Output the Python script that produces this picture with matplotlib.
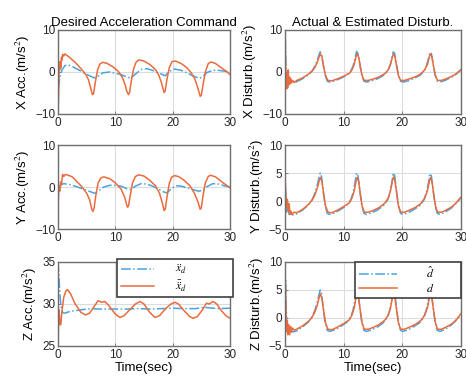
import matplotlib
matplotlib.use("Agg")
import matplotlib.pyplot as plt
import numpy as np

# ---- data (time in sec, value in m/s^2) ----
x_acc_cmd = [(0, -10), (0.1, -6), (0.2, 1.5), (0.3, 0.5), (0.4, 2.5), (0.5, 1), (0.6, 3.5),
             (0.7, 2.8), (0.8, 4.2), (1.0, 3.8), (1.2, 4.3), (1.5, 4.0), (2.0, 3.5), (3.0, 2.3),
             (4.0, 0.8), (4.8, -0.5), (5.3, -1.8), (5.7, -3.8), (6.0, -5.4), (6.2, -5.2),
             (6.5, -2.5), (6.9, 0.5), (7.3, 1.9), (7.8, 2.3), (8.5, 2.1), (9.5, 1.3), (10.5, 0.2),
             (11.2, -1.2), (11.7, -3.0), (12.0, -4.6), (12.3, -5.4), (12.5, -4.8), (12.8, -2.0),
             (13.2, 0.8), (13.6, 2.3), (14.1, 2.9), (15.0, 2.6), (16.0, 1.8), (17.0, 0.6),
             (17.6, -0.8), (18.1, -2.8), (18.5, -4.9), (18.7, -4.5), (19.0, -1.8), (19.4, 1.0),
             (19.9, 2.5), (20.5, 2.6), (21.5, 2.0), (22.5, 1.0), (23.3, -0.3), (23.9, -1.8),
             (24.4, -3.8), (24.8, -5.8), (25.0, -5.5), (25.3, -3.0), (25.7, 0.0), (26.2, 2.0),
             (26.7, 2.4), (27.5, 2.0), (28.5, 1.0), (29.5, 0.0), (30, -0.6)]
x_acc_ref = [(0, -4), (0.3, -1.5), (0.7, 0.5), (1.2, 1.5), (1.7, 1.7), (2.5, 1.3), (3.5, 0.6),
             (4.5, -0.2), (5.5, -0.9), (6.3, -1.4), (7.0, -1.0), (7.8, -0.2), (9.0, 0.0),
             (10.0, -0.3), (11.0, -0.6), (12.0, -1.2), (12.7, -1.5), (13.5, -0.5), (14.5, 0.6),
             (15.5, 0.8), (16.5, 0.4), (17.5, -0.2), (18.7, -0.9), (19.5, 0.2), (20.3, 0.7),
             (21.5, 0.4), (22.5, -0.2), (23.5, -0.9), (24.6, -1.5), (25.2, -1.2), (26.0, -0.1),
             (27.0, 0.4), (28.0, 0.4), (29.0, 0.2), (30, 0.0)]

y_acc_cmd = [(0, -5), (0.15, 0), (0.3, -1), (0.45, 1.2), (0.6, 0.5), (0.8, 3.0), (1.0, 2.5),
             (1.3, 3.0), (1.8, 2.8), (2.5, 2.4), (3.5, 1.0), (4.2, 0.0), (5.0, -1.5), (5.5, -3.0),
             (5.9, -5.3), (6.1, -5.8), (6.3, -5.0), (6.6, -2.0), (7.0, 1.0), (7.5, 2.2),
             (8.0, 2.4), (9.0, 2.0), (10.0, 1.0), (11.0, -0.5), (11.6, -2.3), (12.1, -4.8),
             (12.3, -4.5), (12.6, -2.0), (13.0, 1.0), (13.5, 2.5), (14.1, 2.9), (15.0, 2.6),
             (16.0, 1.6), (17.0, 0.3), (17.7, -1.5), (18.2, -3.8), (18.5, -5.6), (18.7, -5.3),
             (19.0, -2.5), (19.4, 0.8), (19.8, 2.3), (20.3, 2.7), (21.0, 2.5), (22.0, 1.6),
             (23.0, 0.3), (23.8, -1.5), (24.4, -3.5), (24.8, -5.3), (25.0, -5.0), (25.3, -2.0),
             (25.7, 1.0), (26.2, 2.5), (26.6, 2.8), (27.5, 2.4), (28.5, 1.3), (29.5, 0.3),
             (30, -0.2)]
y_acc_ref = [(0, 0), (0.5, 0.5), (1.0, 0.8), (2.0, 0.6), (3.0, 0.2), (4.0, -0.3), (5.0, -0.8),
             (6.4, -1.5), (7.0, -1.0), (8.0, 0.0), (9.0, 0.4), (10.0, 0.4), (11.0, 0.2),
             (12.0, -0.4), (12.7, -0.6), (13.5, 0.2), (14.5, 0.8), (15.5, 0.7), (16.5, 0.2),
             (17.5, -0.5), (18.5, -1.2), (19.0, -1.4), (19.7, -0.5), (20.5, 0.3), (21.5, 0.2),
             (22.5, -0.2), (23.5, -0.6), (24.5, -1.0), (25.3, -0.8), (26.0, 0.1), (27.0, 0.8),
             (28.0, 0.7), (29.0, 0.3), (30, 0.0)]

z_acc_cmd = [(0, 24), (0.05, 26), (0.1, 28.5), (0.2, 29.3), (0.35, 27.5), (0.5, 27.6),
             (0.7, 29.2), (1.0, 30.8), (1.4, 31.6), (1.7, 31.7), (2.2, 31.2), (3.0, 30.0),
             (4.0, 29.0), (4.8, 28.7), (5.5, 28.9), (6.3, 29.7), (7.0, 30.4), (7.6, 30.2),
             (8.2, 30.3), (9.0, 29.7), (10.0, 28.8), (10.8, 28.4), (11.5, 28.6), (12.5, 29.3),
             (13.5, 30.0), (14.3, 30.3), (15.0, 30.0), (16.0, 29.0), (16.9, 28.4), (17.7, 28.6),
             (18.7, 29.4), (19.7, 30.0), (20.4, 30.2), (21.0, 30.0), (22.0, 29.2), (23.0, 28.5),
             (23.6, 28.3), (24.3, 28.5), (25.2, 29.3), (25.9, 30.1), (26.4, 30.0), (27.0, 30.3),
             (27.7, 30.0), (28.5, 29.2), (29.3, 28.6), (30, 28.3)]
z_acc_ref = [(0, 35), (0.15, 33.5), (0.3, 31.5), (0.5, 29.8), (0.8, 29.0), (1.2, 28.9),
             (2.0, 29.1), (3.0, 29.2), (4.0, 29.3), (5.0, 29.4), (6.0, 29.45), (7.0, 29.4),
             (10.0, 29.4), (12.0, 29.4), (14.0, 29.45), (16.0, 29.4), (18.0, 29.45),
             (20.0, 29.5), (22.0, 29.45), (24.0, 29.45), (25.5, 29.6), (27.0, 29.5),
             (28.0, 29.45), (30, 29.5)]

x_dist_act = [(0, 10), (0.05, 6), (0.15, -1), (0.25, -4), (0.35, -0.5), (0.45, -3.8), (0.55, 0.5),
              (0.65, -3), (0.75, -1.2), (0.85, -2.8), (0.95, -1.5), (1.1, -2.6), (1.3, -2.0),
              (1.6, -2.5), (2.0, -2.0), (3.0, -1.4), (4.0, -0.5), (4.6, 0.2), (5.1, 1.1),
              (5.5, 2.3), (5.8, 3.6), (6.05, 4.3), (6.3, 3.6), (6.6, 1.2), (6.9, -0.8),
              (7.3, -2.0), (8.0, -2.1), (9.0, -1.6), (10.0, -1.0), (11.0, -0.3), (11.4, 0.5),
              (11.8, 1.8), (12.1, 3.6), (12.3, 4.3), (12.55, 3.6), (12.85, 1.2), (13.15, -0.9),
              (13.5, -2.0), (14.2, -2.0), (15.0, -1.7), (16.0, -1.2), (17.0, -0.4), (17.6, 0.5),
              (18.0, 1.9), (18.3, 3.6), (18.5, 4.3), (18.75, 3.6), (19.05, 1.2), (19.35, -0.9),
              (19.7, -2.0), (20.4, -2.0), (21.3, -1.6), (22.3, -1.1), (23.2, -0.4), (23.8, 0.5),
              (24.3, 1.9), (24.6, 3.6), (24.8, 4.3), (25.05, 3.6), (25.35, 1.2), (25.65, -0.9),
              (26.0, -2.0), (26.7, -2.0), (27.5, -1.6), (28.5, -1.0), (29.3, -0.3), (30, 0.6)]
x_dist_est = [(0, 3.5), (0.05, 9.5), (0.15, 0), (0.3, -3), (0.45, -2), (0.6, -2.8), (0.8, -2),
              (1.0, -2.5), (1.3, -2.3), (1.6, -2.6), (2.0, -2.3), (3.0, -1.6), (4.0, -0.7),
              (4.6, 0.2), (5.1, 1.4), (5.5, 2.8), (5.8, 4.1), (6.0, 4.8), (6.2, 4.4), (6.5, 1.9),
              (6.8, -0.6), (7.2, -2.2), (7.6, -2.4), (8.5, -2.1), (9.5, -1.5), (10.5, -0.8),
              (11.2, 0.2), (11.6, 1.4), (11.9, 3.1), (12.2, 4.9), (12.45, 4.4), (12.75, 1.9),
              (13.05, -0.6), (13.45, -2.2), (13.9, -2.4), (14.8, -2.1), (15.8, -1.6),
              (16.8, -0.8), (17.5, 0.2), (17.9, 1.5), (18.2, 3.2), (18.45, 4.8), (18.7, 4.4),
              (19.0, 1.9), (19.3, -0.6), (19.7, -2.2), (20.1, -2.4), (21.0, -2.1), (22.0, -1.5),
              (23.0, -0.8), (23.7, 0.2), (24.1, 1.5), (24.45, 3.2), (24.7, 4.7), (24.95, 4.4),
              (25.25, 1.9), (25.55, -0.6), (25.95, -2.2), (26.4, -2.4), (27.3, -2.0),
              (28.3, -1.3), (29.2, -0.5), (30, 0.5)]

y_dist_act = [(0, 5), (0.1, 2), (0.25, -1), (0.4, 0.3), (0.55, -1.8), (0.7, -0.5), (0.85, -2.4),
              (1.0, -1.8), (1.2, -2.4), (1.5, -2.0), (2.0, -2.1), (3.0, -1.5), (4.0, -0.6),
              (4.6, 0.1), (5.1, 1.1), (5.5, 2.3), (5.8, 3.5), (6.05, 4.2), (6.3, 3.5), (6.6, 1.2),
              (6.9, -0.8), (7.3, -2.0), (8.0, -2.1), (9.0, -1.6), (10.0, -1.0), (11.0, -0.3),
              (11.4, 0.5), (11.8, 1.8), (12.1, 3.5), (12.3, 4.2), (12.55, 3.5), (12.85, 1.2),
              (13.15, -0.9), (13.5, -2.0), (14.2, -2.0), (15.0, -1.7), (16.0, -1.2), (17.0, -0.4),
              (17.6, 0.5), (18.0, 1.9), (18.3, 3.6), (18.5, 4.3), (18.75, 3.6), (19.05, 1.2),
              (19.35, -0.9), (19.7, -2.0), (20.4, -2.0), (21.3, -1.6), (22.3, -1.1), (23.2, -0.4),
              (23.8, 0.5), (24.3, 1.9), (24.6, 3.5), (24.8, 4.2), (25.05, 3.5), (25.35, 1.2),
              (25.65, -0.9), (26.0, -2.0), (26.7, -2.0), (27.5, -1.6), (28.5, -1.0), (29.3, -0.2),
              (30, 0.7)]
y_dist_est = [(0, 5), (0.1, 1), (0.25, -2), (0.5, -1), (0.7, -2.4), (1.0, -2.2), (1.3, -2.5),
              (2.0, -2.3), (3.0, -1.6), (4.0, -0.7), (4.6, 0.2), (5.1, 1.4), (5.5, 2.8),
              (5.8, 4.2), (6.0, 5.0), (6.2, 4.5), (6.5, 1.9), (6.8, -0.6), (7.2, -2.2),
              (7.6, -2.4), (8.5, -2.1), (9.5, -1.5), (10.5, -0.8), (11.2, 0.2), (11.6, 1.4),
              (11.9, 3.1), (12.2, 5.0), (12.45, 4.5), (12.75, 1.9), (13.05, -0.6), (13.45, -2.2),
              (13.9, -2.4), (14.8, -2.1), (15.8, -1.6), (16.8, -0.8), (17.5, 0.2), (17.9, 1.5),
              (18.2, 3.2), (18.45, 5.0), (18.7, 4.5), (19.0, 1.9), (19.3, -0.6), (19.7, -2.2),
              (20.1, -2.4), (21.0, -2.1), (22.0, -1.5), (23.0, -0.8), (23.7, 0.2), (24.1, 1.5),
              (24.45, 3.2), (24.7, 4.9), (24.95, 4.5), (25.25, 1.9), (25.55, -0.6),
              (25.95, -2.2), (26.4, -2.4), (27.3, -2.0), (28.3, -1.3), (29.2, -0.4), (30, 0.6)]

z_dist_act = [(0, 7.8), (0.1, 5), (0.2, 0), (0.3, -2.5), (0.4, -0.5), (0.5, -3), (0.65, -1.2),
              (0.8, -3), (0.95, -1.5), (1.1, -2.5), (1.3, -1.8), (1.6, -2.2), (2.0, -2.0),
              (3.0, -1.4), (4.0, -0.6), (4.6, 0.1), (5.1, 1.1), (5.5, 2.3), (5.8, 3.6),
              (6.05, 4.3), (6.3, 3.6), (6.6, 1.2), (6.9, -0.8), (7.3, -2.0), (8.0, -2.1),
              (9.0, -1.6), (10.0, -1.0), (11.0, -0.3), (11.4, 0.5), (11.8, 1.8), (12.1, 3.6),
              (12.3, 4.3), (12.55, 3.6), (12.85, 1.2), (13.15, -0.9), (13.5, -2.0), (14.2, -2.0),
              (15.0, -1.7), (16.0, -1.2), (17.0, -0.4), (17.6, 0.5), (18.0, 1.9), (18.3, 3.6),
              (18.5, 4.3), (18.75, 3.6), (19.05, 1.2), (19.35, -0.9), (19.7, -2.0), (20.4, -2.0),
              (21.3, -1.6), (22.3, -1.1), (23.2, -0.4), (23.8, 0.5), (24.3, 1.9), (24.6, 3.6),
              (24.8, 4.3), (25.05, 3.6), (25.35, 1.2), (25.65, -0.9), (26.0, -2.0), (26.7, -2.0),
              (27.5, -1.6), (28.5, -1.0), (29.3, -0.2), (30, 0.8)]
z_dist_est = [(0, 5), (0.1, 7), (0.2, 2), (0.35, -1.5), (0.6, -2.5), (1.0, -2.3), (1.3, -2.5),
              (2.0, -2.3), (3.0, -1.6), (4.0, -0.7), (4.6, 0.2), (5.1, 1.4), (5.5, 2.8),
              (5.8, 4.2), (6.0, 5.0), (6.2, 4.5), (6.5, 1.9), (6.8, -0.6), (7.2, -2.2),
              (7.6, -2.4), (8.5, -2.1), (9.5, -1.5), (10.5, -0.8), (11.2, 0.2), (11.6, 1.4),
              (11.9, 3.1), (12.2, 5.0), (12.45, 4.5), (12.75, 1.9), (13.05, -0.6), (13.45, -2.2),
              (13.9, -2.4), (14.8, -2.1), (15.8, -1.6), (16.8, -0.8), (17.5, 0.2), (17.9, 1.5),
              (18.2, 3.2), (18.45, 5.0), (18.7, 4.5), (19.0, 1.9), (19.3, -0.6), (19.7, -2.2),
              (20.1, -2.4), (21.0, -2.1), (22.0, -1.5), (23.0, -0.8), (23.7, 0.2), (24.1, 1.5),
              (24.45, 3.2), (24.7, 4.9), (24.95, 4.5), (25.25, 1.9), (25.55, -0.6),
              (25.95, -2.2), (26.4, -2.4), (27.3, -2.0), (28.3, -1.3), (29.2, -0.4), (30, 0.6)]

left_ylabels = ["X Acc.(m/s$^2$)", "Y Acc.(m/s$^2$)", "Z Acc.(m/s$^2$)"]
right_ylabels = ["X Disturb.(m/s$^2$)", "Y Disturb.(m/s$^2$)", "Z Disturb.(m/s$^2$)"]
left_ylims = [(-10, 10), (-10, 10), (25, 35)]
left_yticks = [[-10, 0, 10], [-10, 0, 10], [25, 30, 35]]
right_ylims = [(-10, 10), (-5, 10), (-5, 10)]
right_yticks = [[-10, 0, 10], [-5, 0, 5, 10], [-5, 0, 5, 10]]
xticks = [0, 10, 20, 30]

BLUE = "#4aa3df"
ORANGE = "#ea6b3d"

plt.rcParams["font.family"] = ["Liberation Sans", "DejaVu Sans"]
plt.rcParams["mathtext.fontset"] = "stix"

fig = plt.figure(figsize=(4.66, 3.83), dpi=100)

left_x, left_w = 58 / 466, 172 / 466
right_x, right_w = 285 / 466, 176 / 466
row_bottoms = [1 - 114 / 383, 1 - 229 / 383, 1 - 346 / 383]
row_h = 84 / 383


def style(ax, ylim, yticks):
    ax.set_xlim(0, 30)
    ax.set_ylim(*ylim)
    ax.set_xticks(xticks)
    ax.set_yticks(yticks)
    ax.grid(True, color="#dcdcdc", linewidth=0.8)
    ax.set_axisbelow(True)
    for s in ax.spines.values():
        s.set_color("#6e6e6e")
        s.set_linewidth(1.0)
    ax.tick_params(direction="in", length=2.5, width=0.6, color="#6e6e6e",
                   labelsize=8.5, labelcolor="#262626", pad=2)


def add_legend(ax, anchor, handlelength, textpad):
    leg = ax.legend(loc="upper left", bbox_to_anchor=anchor, mode="expand",
                    fontsize=8.5, frameon=True, fancybox=False, framealpha=1,
                    handlelength=handlelength, handletextpad=textpad,
                    borderaxespad=0, labelspacing=0.15, borderpad=0.3)
    leg.get_frame().set_edgecolor("#404040")
    leg.get_frame().set_linewidth(1.2)


left_data = [(x_acc_ref, x_acc_cmd), (y_acc_ref, y_acc_cmd), (z_acc_ref, z_acc_cmd)]
right_data = [(x_dist_est, x_dist_act), (y_dist_est, y_dist_act), (z_dist_est, z_dist_act)]

for i in range(3):
    # left column: desired acceleration command
    ax = fig.add_axes([left_x, row_bottoms[i], left_w, row_h])
    ref, cmd = left_data[i]
    t1, v1 = np.array(ref).T
    t2, v2 = np.array(cmd).T
    ax.plot(t1, v1, "-.", color=BLUE, linewidth=1.1, label=r"$\ddot{x}_d$")
    ax.plot(t2, v2, "-", color=ORANGE, linewidth=1.1, label=r"$\bar{\ddot{x}}_d$")
    style(ax, left_ylims[i], left_yticks[i])
    ax.set_ylabel(left_ylabels[i], fontsize=9.5, labelpad=2)
    if i == 0:
        ax.set_title("Desired Acceleration Command", fontsize=9.5, pad=3)
    if i == 2:
        ax.set_xlabel("Time(sec)", fontsize=9.5, labelpad=1)
        add_legend(ax, (0.345, 0.63, 0.67, 0.4), 2.8, 1.8)

    # right column: actual & estimated disturbance
    ax = fig.add_axes([right_x, row_bottoms[i], right_w, row_h])
    est, act = right_data[i]
    t1, v1 = np.array(est).T
    t2, v2 = np.array(act).T
    ax.plot(t1, v1, "-.", color=BLUE, linewidth=1.1, label=r"$\hat{d}$")
    ax.plot(t2, v2, "-", color=ORANGE, linewidth=1.1, label=r"$d$")
    style(ax, right_ylims[i], right_yticks[i])
    ax.set_ylabel(right_ylabels[i], fontsize=9.5, labelpad=2)
    if i == 0:
        ax.set_title("Actual & Estimated Disturb.", fontsize=9.5, pad=3)
    if i == 2:
        ax.set_xlabel("Time(sec)", fontsize=9.5, labelpad=1)
        add_legend(ax, (0.4, 0.62, 0.6, 0.38), 3.2, 2.5)

fig.savefig("out.png", dpi=100)
